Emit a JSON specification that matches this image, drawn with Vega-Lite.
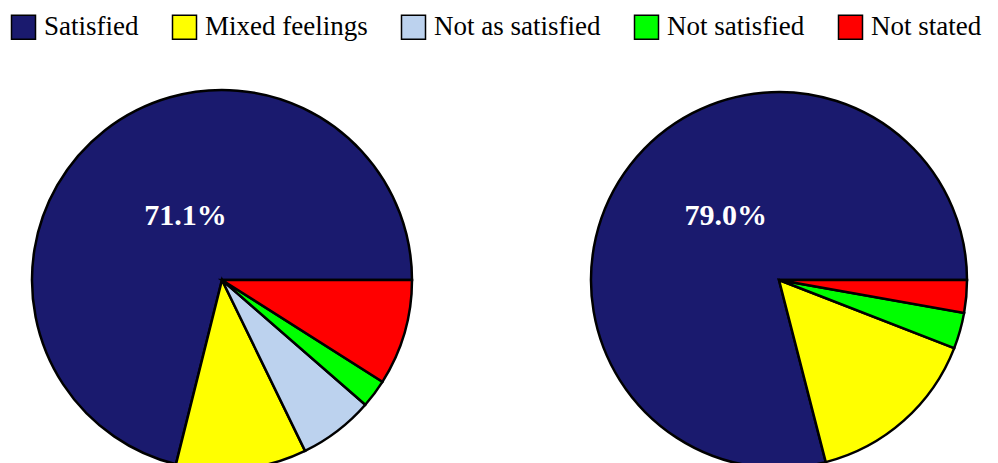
{
  "$schema": "https://vega.github.io/schema/vega-lite/v6.json",
  "padding": 0,
  "background": "white",
  "spacing": 113,
  "data": {
    "values": [
      {"survey": "A", "category": "Satisfied", "value": 0.711, "rank": 1},
      {"survey": "A", "category": "Mixed feelings", "value": 0.111, "rank": 2},
      {"survey": "A", "category": "Not as satisfied", "value": 0.064, "rank": 3},
      {"survey": "A", "category": "Not satisfied", "value": 0.024, "rank": 4},
      {"survey": "A", "category": "Not stated", "value": 0.090, "rank": 5},
      {"survey": "B", "category": "Satisfied", "value": 0.790, "rank": 1},
      {"survey": "B", "category": "Mixed feelings", "value": 0.151, "rank": 2},
      {"survey": "B", "category": "Not satisfied", "value": 0.031, "rank": 4},
      {"survey": "B", "category": "Not stated", "value": 0.028, "rank": 5}
    ]
  },
  "hconcat": [
    {
      "width": 444,
      "height": 560,
      "transform": [{"filter": "datum.survey === 'A'"}],
      "layer": [
        {
          "mark": {"type": "arc", "outerRadius": 190, "stroke": "black", "strokeWidth": 2.5},
          "encoding": {
            "theta": {"field": "value", "type": "quantitative", "stack": true, "scale": {"range": [1.5707963, -4.7123890]}},
            "order": {"field": "rank", "type": "quantitative"},
            "color": {
              "field": "category", "type": "nominal",
              "scale": {"domain": ["Satisfied", "Mixed feelings", "Not as satisfied", "Not satisfied", "Not stated"], "range": ["#1a1a6e", "#ffff00", "#bcd2ee", "#00ff00", "#ff0000"]},
              "legend": {"orient": "none", "legendX": 10, "legendY": 13.5, "direction": "horizontal", "title": null, "symbolType": "square", "symbolSize": 576, "symbolStrokeColor": "black", "symbolStrokeWidth": 1.5, "labelFont": "Liberation Serif", "labelFontSize": 27, "labelColor": "black", "columnPadding": 30, "labelOffset": 7, "labelLimit": 0}
            }
          }
        },
        {
          "transform": [{"filter": "datum.category === 'Satisfied'"}],
          "mark": {"type": "text", "radius": 74, "font": "Liberation Serif", "fontWeight": "bold", "fontSize": 30, "color": "white", "dx": 9, "dy": -6},
          "encoding": {
            "theta": {"field": "value", "type": "quantitative", "stack": true, "scale": {"range": [1.5707963, -4.7123890]}},
            "text": {"field": "value", "type": "quantitative", "format": ".1%"}
          }
        }
      ]
    },
    {
      "width": 444,
      "height": 560,
      "transform": [{"filter": "datum.survey === 'B'"}],
      "layer": [
        {
          "mark": {"type": "arc", "outerRadius": 188, "stroke": "black", "strokeWidth": 2.5},
          "encoding": {
            "theta": {"field": "value", "type": "quantitative", "stack": true, "scale": {"range": [1.5707963, -4.7123890]}},
            "order": {"field": "rank", "type": "quantitative"},
            "color": {
              "field": "category", "type": "nominal",
              "scale": {"domain": ["Satisfied", "Mixed feelings", "Not as satisfied", "Not satisfied", "Not stated"], "range": ["#1a1a6e", "#ffff00", "#bcd2ee", "#00ff00", "#ff0000"]},
              "legend": {"orient": "none", "legendX": 10, "legendY": 13.5, "direction": "horizontal", "title": null, "symbolType": "square", "symbolSize": 576, "symbolStrokeColor": "black", "symbolStrokeWidth": 1.5, "labelFont": "Liberation Serif", "labelFontSize": 27, "labelColor": "black", "columnPadding": 30, "labelOffset": 7, "labelLimit": 0}
            }
          }
        },
        {
          "transform": [{"filter": "datum.category === 'Satisfied'"}],
          "mark": {"type": "text", "radius": 84, "font": "Liberation Serif", "fontWeight": "bold", "fontSize": 30, "color": "white", "dx": 13, "dy": -13},
          "encoding": {
            "theta": {"field": "value", "type": "quantitative", "stack": true, "scale": {"range": [1.5707963, -4.7123890]}},
            "text": {"field": "value", "type": "quantitative", "format": ".1%"}
          }
        }
      ]
    }
  ],
  "config": {"view": {"stroke": null}}
}
